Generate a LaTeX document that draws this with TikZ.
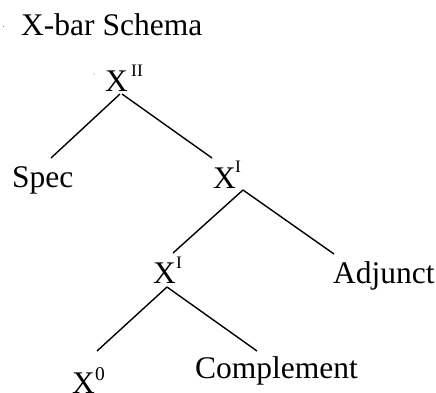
\documentclass[tikz,border=0pt]{standalone}
\usepackage{fontspec}
\setmainfont{Liberation Serif}
\begin{document}
\begin{tikzpicture}[x=1pt,y=-1pt,
  lbl/.style={anchor=base west,inner sep=0pt,font=\fontsize{31.5}{36}\selectfont},
  supr/.style={anchor=base west,inner sep=0pt,font=\fontsize{17.5}{20}\selectfont},
  supz/.style={anchor=base west,inner sep=0pt,font=\fontsize{19.5}{22}\selectfont},
  branch/.style={line width=1.4pt,line cap=butt},
  speck/.style={fill=black!45,draw=none}]
\useasboundingbox (0,0) rectangle (436,392);

% heading
\node[lbl] (title) at (21,35) {X-bar Schema};
\fill[speck] (3.5,26.5) circle (0.7);

% maximal projection
\node[lbl] (xii) at (105,91) {X};
\node[supr] (xiisup) at (131,76) {II};
\fill[speck] (94,74) circle (0.7);

% specifier level
\node[lbl] (spec) at (12,187) {Spec};
\node[lbl] (xi) at (213,188) {X};
\node[supr] (xisup) at (235,172) {I};

% adjunct level
\node[lbl] (xib) at (153,283) {X};
\node[supr] (xibsup) at (176,268) {I};
\node[lbl] (adj) at (333,283) {Adjunct};

% head and complement
\node[lbl] (x0) at (72,393) {X};
\node[supz] (x0sup) at (95,380) {0};
\node[lbl] (comp) at (195,378) {Complement};

% branch end points
\coordinate (xii-l) at (120,94);
\coordinate (xii-r) at (122,94);
\coordinate (spec-top) at (51,158);
\coordinate (xi-top) at (212,158);
\coordinate (xi-foot) at (243,190);
\coordinate (xib-top) at (173,253);
\coordinate (adj-top) at (334,254);
\coordinate (xib-foot) at (167,287);
\coordinate (x0-top) at (97,351);
\coordinate (comp-top) at (257,351);

\draw[branch] (xii-l) -- (spec-top);
\draw[branch] (xii-r) -- (xi-top);
\draw[branch] (xi-foot) -- (xib-top);
\draw[branch] (xi-foot) -- (adj-top);
\draw[branch] (xib-foot) -- (x0-top);
\draw[branch] (xib-foot) -- (comp-top);
\end{tikzpicture}
\end{document}
